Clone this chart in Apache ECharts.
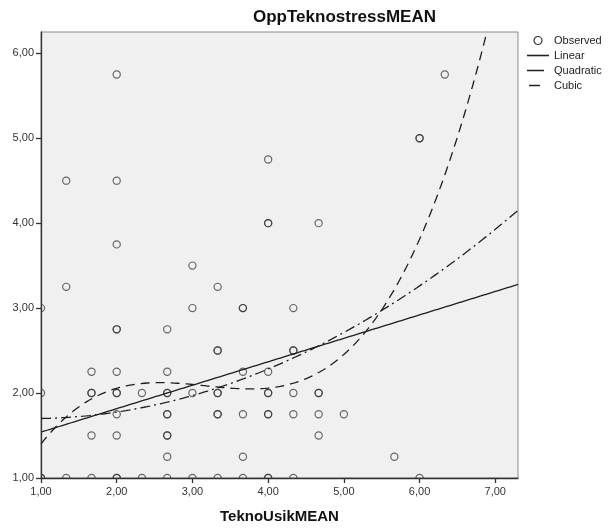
<!DOCTYPE html>
<html>
<head>
<meta charset="utf-8">
<script src="https://cdn.jsdelivr.net/npm/echarts@6/dist/echarts.min.js"></script>
<style>
html,body{margin:0;padding:0;background:#fff;}
#chart{width:615px;height:531px;}
</style>
</head>
<body>
<div id="chart"></div>
<script>
// Observed points (TeknoUsikMEAN, OppTeknostressMEAN); repeated entries = overlapping cases
var obsX = [
  1, 1, 1, 1,
  1.333, 1.333, 1.333,
  1.667, 1.667, 1.667, 1.667, 1.667,
  2, 2, 2, 2, 2, 2, 2, 2, 2, 2, 2, 2,
  2.333, 2.333,
  2.667, 2.667, 2.667, 2.667, 2.667, 2.667, 2.667, 2.667, 2.667, 2.667,
  3, 3, 3, 3,
  3.333, 3.333, 3.333, 3.333, 3.333, 3.333, 3.333, 3.333,
  3.667, 3.667, 3.667, 3.667, 3.667, 3.667,
  4, 4, 4, 4, 4, 4, 4, 4, 4, 4,
  4.333, 4.333, 4.333, 4.333, 4.333, 4.333,
  4.667, 4.667, 4.667, 4.667, 4.667,
  5,
  5.667,
  6, 6, 6,
  6.333
];
var obsY = [
  3.00, 2.00, 1.00, 1.00,
  4.50, 3.25, 1.00,
  2.25, 2.00, 2.00, 1.50, 1.00,
  5.75, 4.50, 3.75, 2.75, 2.75, 2.25, 2.00, 2.00, 1.75, 1.50, 1.00, 1.00,
  2.00, 1.00,
  2.75, 2.25, 2.00, 2.00, 1.75, 1.75, 1.50, 1.50, 1.25, 1.00,
  3.50, 3.00, 2.00, 1.00,
  3.25, 2.50, 2.50, 2.00, 2.00, 1.75, 1.75, 1.00,
  3.00, 3.00, 2.25, 1.75, 1.25, 1.00,
  4.75, 4.00, 4.00, 2.25, 2.00, 2.00, 1.75, 1.75, 1.00, 1.00,
  3.00, 2.50, 2.50, 2.00, 1.75, 1.00,
  4.00, 2.00, 2.00, 1.75, 1.50,
  1.75,
  1.25,
  5.00, 5.00, 1.00,
  5.75
];

// Fitted curve coefficients (constant, x, x^2, x^3)
var linearCoef    = [1.264, 0.276];
var quadraticCoef = [1.742, -0.1008, 0.0590];
var cubicCoef     = [-0.391, 2.534, -0.830, 0.0874];

var xTicks = [1, 2, 3, 4, 5, 6, 7];
var yTicks = [1, 2, 3, 4, 5, 6];
var xRange = [1, 7.3];
var yRange = [1, 6.25];

function curve(coef) {
  var pts = [];
  for (var i = 0; i <= 315; i++) {
    var x = xRange[0] + i * 0.02;
    var y = 0, p = 1;
    for (var k = 0; k < coef.length; k++) { y += coef[k] * p; p *= x; }
    pts.push([x, y]);
  }
  return pts;
}

var observed = obsX.map(function (x, i) { return [x, obsY[i]]; });
function fmt(v) { return v.toFixed(2).replace('.', ','); }

var chart = echarts.init(document.getElementById('chart'), null, {renderer: 'canvas'});
var FONT = 'Liberation Sans, Arial, sans-serif';
var lineColor = '#1e1e1e';

chart.setOption({
  animation: false,
  backgroundColor: '#ffffff',
  title: {
    text: 'OppTeknostressMEAN',
    left: 253, top: 9, padding: 0,
    textStyle: {fontFamily: FONT, fontSize: 17, fontWeight: 'bold', color: '#111'}
  },
  legend: {
    orient: 'vertical',
    left: 527, top: 35, padding: 0,
    itemWidth: 22, itemHeight: 8, itemGap: 4,
    textStyle: {fontFamily: FONT, fontSize: 11, color: '#222'},
    data: [
      {name: 'Observed', icon: 'circle', itemStyle: {color: 'transparent', borderColor: '#333', borderWidth: 1.2}},
      {name: 'Linear', icon: 'path://M0,0h22v1.6h-22z', itemStyle: {color: '#222', borderWidth: 0}},
      {name: 'Quadratic', icon: 'path://M0,0h17v1.6h-17zM22,0v1.6', itemStyle: {color: '#222', borderWidth: 0}},
      {name: 'Cubic', icon: 'path://M2,0h11v1.6h-11zM22,0v1.6M0,0v1.6', itemStyle: {color: '#222', borderWidth: 0}}
    ]
  },
  grid: {
    left: 41, right: 97, top: 32, bottom: 53,
    show: true, backgroundColor: '#f0f0f0', borderColor: '#8a8a8a', borderWidth: 1
  },
  xAxis: {
    type: 'value', min: xRange[0], max: xRange[1], interval: 1, z: 10,
    name: 'TeknoUsikMEAN', nameLocation: 'middle', nameGap: 31,
    nameTextStyle: {fontFamily: FONT, fontSize: 15, fontWeight: 'bold', color: '#111'},
    axisLine: {show: true, onZero: false, lineStyle: {color: '#333', width: 1.3}},
    axisTick: {show: true, length: 5, customValues: xTicks, lineStyle: {color: '#333', width: 1.3}},
    axisLabel: {customValues: xTicks, formatter: fmt, fontFamily: FONT, fontSize: 11, color: '#333', margin: 8},
    splitLine: {show: false}
  },
  yAxis: {
    type: 'value', min: yRange[0], max: yRange[1], interval: 1, z: 10,
    axisLine: {show: true, onZero: false, lineStyle: {color: '#333', width: 1.3}},
    axisTick: {show: true, length: 5, customValues: yTicks, lineStyle: {color: '#333', width: 1.3}},
    axisLabel: {customValues: yTicks, formatter: fmt, fontFamily: FONT, fontSize: 11, color: '#333', margin: 7},
    splitLine: {show: false}
  },
  series: [
    {
      name: 'Observed', type: 'custom', data: observed, clip: true,
      encode: {x: 0, y: 1},
      itemStyle: {color: 'transparent', borderColor: '#333'},
      renderItem: function (params, api) {
        var p = api.coord([api.value(0), api.value(1)]);
        return {
          type: 'circle',
          shape: {cx: p[0], cy: p[1], r: 3.6},
          style: {fill: 'none', stroke: 'rgba(50,50,50,0.72)', lineWidth: 1.2}
        };
      }
    },
    {
      name: 'Linear', type: 'line', data: curve(linearCoef), clip: true,
      showSymbol: false, symbol: 'none',
      lineStyle: {color: lineColor, width: 1.3, type: 'solid'}, itemStyle: {color: lineColor}
    },
    {
      name: 'Quadratic', type: 'line', data: curve(quadraticCoef), clip: true,
      showSymbol: false, symbol: 'none',
      lineStyle: {color: lineColor, width: 1.3, type: [10, 4, 2, 4]}, itemStyle: {color: lineColor}
    },
    {
      name: 'Cubic', type: 'line', data: curve(cubicCoef), clip: true,
      showSymbol: false, symbol: 'none',
      lineStyle: {color: lineColor, width: 1.3, type: [9, 6]}, itemStyle: {color: lineColor}
    }
  ]
});
</script>
</body>
</html>
